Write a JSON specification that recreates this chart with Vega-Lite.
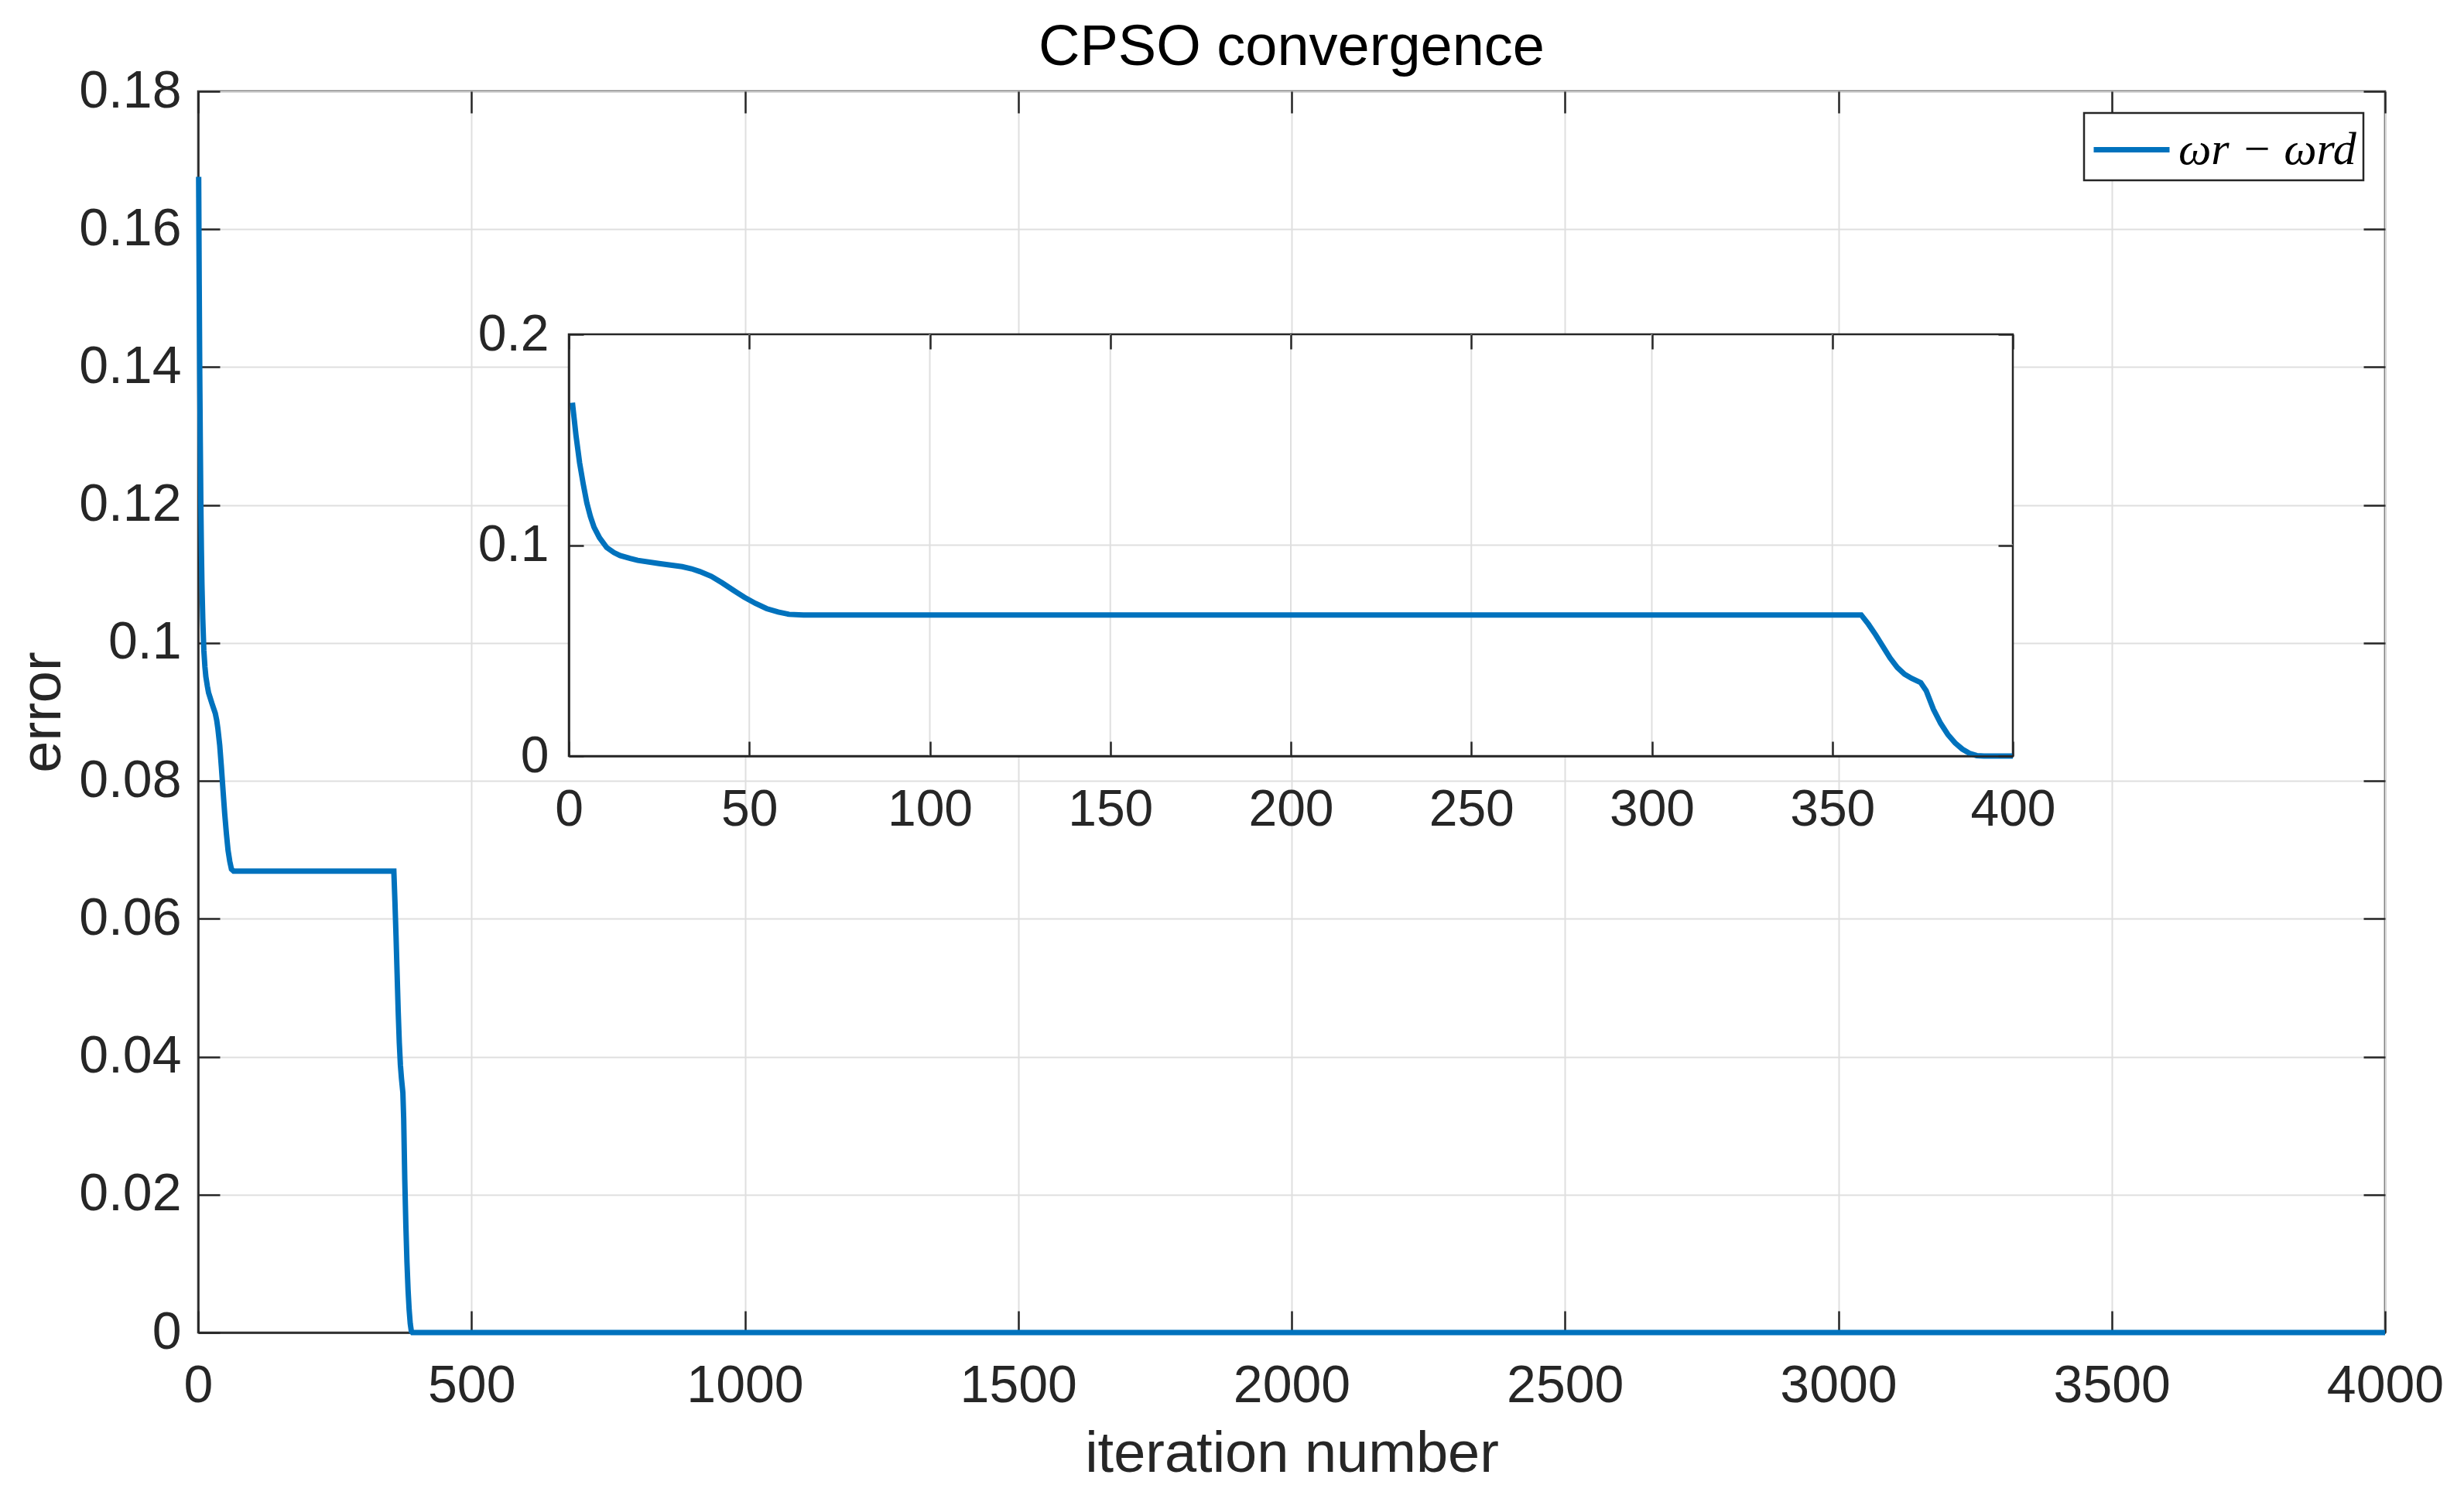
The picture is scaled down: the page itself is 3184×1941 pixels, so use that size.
{
  "$schema": "https://vega.github.io/schema/vega-lite/v6.json",
  "width": 2826,
  "height": 1604,
  "autosize": {"type": "none"},
  "padding": {"left": 256, "top": 118, "right": 102, "bottom": 219},
  "background": "white",
  "title": {"text": "CPSO convergence", "fontSize": 74, "font": "Liberation Sans", "fontWeight": "normal", "color": "#000000", "offset": -16, "anchor": "middle"},
  "datasets": {
    "curve": [
      {"x": 1, "y": 0.1676}, {"x": 2, "y": 0.152}, {"x": 3, "y": 0.139}, {"x": 4, "y": 0.129},
      {"x": 5, "y": 0.12}, {"x": 6, "y": 0.1135}, {"x": 7, "y": 0.1085}, {"x": 8.5, "y": 0.1035},
      {"x": 10.5, "y": 0.0989}, {"x": 12.5, "y": 0.0965}, {"x": 14.2, "y": 0.0951}, {"x": 17, "y": 0.0937},
      {"x": 19.1, "y": 0.0928}, {"x": 25, "y": 0.0913}, {"x": 31.4, "y": 0.0898}, {"x": 34, "y": 0.0888},
      {"x": 36.3, "y": 0.0875}, {"x": 39.5, "y": 0.0852}, {"x": 42.5, "y": 0.0821}, {"x": 45.5, "y": 0.0787},
      {"x": 48.6, "y": 0.0753}, {"x": 51.7, "y": 0.0724}, {"x": 54.8, "y": 0.0699}, {"x": 58, "y": 0.0683},
      {"x": 61, "y": 0.0672}, {"x": 65, "y": 0.0669}, {"x": 358, "y": 0.0669}, {"x": 360, "y": 0.0625},
      {"x": 362, "y": 0.0575}, {"x": 364, "y": 0.052}, {"x": 366, "y": 0.0465}, {"x": 368, "y": 0.042},
      {"x": 370, "y": 0.0388}, {"x": 372, "y": 0.0368}, {"x": 374.5, "y": 0.0348}, {"x": 376, "y": 0.031},
      {"x": 378, "y": 0.0222}, {"x": 380, "y": 0.0155}, {"x": 382, "y": 0.0102}, {"x": 384, "y": 0.0062},
      {"x": 386, "y": 0.0033}, {"x": 388, "y": 0.0013}, {"x": 390, "y": 0.0002}, {"x": 392, "y": 0},
      {"x": 400, "y": 0}, {"x": 4000, "y": 0}
    ],
    "box": [{"x0": 0, "x1": 400, "y0": 0, "y1": 0.2}],
    "gridX": [{"g": 50}, {"g": 100}, {"g": 150}, {"g": 200}, {"g": 250}, {"g": 300}, {"g": 350}],
    "gridY": [{"g": 0.1}]
  },
  "config": {
    "view": {"stroke": "#262626", "strokeWidth": 2.5},
    "font": "Liberation Sans",
    "axis": {
      "domainColor": "#262626", "domainWidth": 2.5,
      "tickColor": "#262626", "tickWidth": 2.5,
      "labelColor": "#262626", "labelFont": "Liberation Sans",
      "titleFont": "Liberation Sans", "titleColor": "#262626", "titleFontWeight": "normal",
      "gridColor": "#dfdfdf", "gridWidth": 2,
      "labelFlush": false, "labelOverlap": false
    }
  },
  "layer": [
    {
      "data": {"name": "curve"},
      "layer": [
        {
          "mark": {"type": "line", "strokeWidth": 7},
          "encoding": {
            "x": {"field": "x", "type": "quantitative",
              "scale": {"domain": [0, 4000], "nice": false, "zero": false},
              "axis": {"orient": "bottom", "values": [0, 500, 1000, 1500, 2000, 2500, 3000, 3500, 4000],
                "format": "d", "tickSize": -28, "labelPadding": 63, "labelFontSize": 68,
                "title": "iteration number", "titleFontSize": 74, "titlePadding": 18, "grid": true}},
            "y": {"field": "y", "type": "quantitative",
              "scale": {"domain": [0, 0.18], "nice": false},
              "axis": {"orient": "left", "values": [0, 0.02, 0.04, 0.06, 0.08, 0.1, 0.12, 0.14, 0.16, 0.18],
                "format": "~g", "tickSize": -28, "labelPadding": 50, "labelFontSize": 68,
                "title": "error", "titleFontSize": 74, "titlePadding": 8, "grid": true}},
            "color": {"datum": "ωr − ωrd", "type": "nominal",
              "scale": {"range": ["#0072BD"]},
              "legend": {"title": null, "orient": "top-right", "offset": 28, "padding": 9,
                "symbolType": "M-1.4,0H1.4", "symbolSize": 4900, "symbolStrokeWidth": 7, "symbolOffset": 14,
                "labelFont": "Liberation Serif", "labelFontStyle": "italic", "labelFontSize": 60,
                "labelColor": "#000000", "labelOffset": 22, "labelLimit": 2000,
                "strokeColor": "#262626", "fillColor": "white",
                "encode": {"legend": {"update": {"strokeWidth": {"value": 2.5}}}}}}
          }
        },
        {
          "mark": {"type": "line", "strokeOpacity": 0},
          "encoding": {
            "x": {"field": "x", "type": "quantitative",
              "axis": {"orient": "top", "values": [0, 500, 1000, 1500, 2000, 2500, 3000, 3500, 4000],
                "tickSize": -28, "labels": false, "domain": false, "grid": false, "title": null}},
            "y": {"field": "y", "type": "quantitative",
              "axis": {"orient": "right", "values": [0, 0.02, 0.04, 0.06, 0.08, 0.1, 0.12, 0.14, 0.16, 0.18],
                "tickSize": -28, "labels": false, "domain": false, "grid": false, "title": null}}
          }
        }
      ],
      "resolve": {"axis": {"x": "independent", "y": "independent"}}
    },
    {
      "layer": [
        {
          "data": {"name": "box"},
          "mark": {"type": "rect", "fill": "white", "stroke": "#262626", "strokeWidth": 2.5},
          "encoding": {
            "x": {"field": "x0", "type": "quantitative",
              "scale": {"domain": [0, 400], "range": [479, 2345], "nice": false, "zero": false},
              "axis": {"orient": "bottom", "offset": -745, "values": [0, 50, 100, 150, 200, 250, 300, 350, 400],
                "tickSize": -19, "labelPadding": 56, "labelFontSize": 66, "title": null, "grid": false, "zindex": 1}},
            "x2": {"field": "x1"},
            "y": {"field": "y0", "type": "quantitative",
              "scale": {"domain": [0, 0.2], "range": [859, 314], "nice": false},
              "axis": {"orient": "left", "offset": -479, "values": [0, 0.1, 0.2], "format": "~g",
                "tickSize": -19, "labelPadding": 45, "labelFontSize": 66, "title": null, "grid": false, "zindex": 1}},
            "y2": {"field": "y1"}
          }
        },
        {
          "data": {"name": "gridX"},
          "mark": {"type": "rule", "color": "#dfdfdf", "strokeWidth": 2},
          "encoding": {
            "x": {"field": "g", "type": "quantitative", "axis": null},
            "y": {"datum": 0, "type": "quantitative", "axis": null},
            "y2": {"datum": 0.2}
          }
        },
        {
          "data": {"name": "gridY"},
          "mark": {"type": "rule", "color": "#dfdfdf", "strokeWidth": 2},
          "encoding": {
            "y": {"field": "g", "type": "quantitative", "axis": null},
            "x": {"datum": 0, "type": "quantitative", "axis": null},
            "x2": {"datum": 400}
          }
        },
        {
          "data": {"name": "curve"},
          "transform": [{"filter": "datum.x <= 400"}],
          "mark": {"type": "line", "color": "#0072BD", "strokeWidth": 7},
          "encoding": {
            "x": {"field": "x", "type": "quantitative",
              "axis": {"orient": "top", "offset": -314, "values": [0, 50, 100, 150, 200, 250, 300, 350, 400],
                "tickSize": -19, "labels": false, "domain": false, "grid": false, "title": null, "zindex": 1}},
            "y": {"field": "y", "type": "quantitative",
              "axis": {"orient": "right", "offset": -481, "values": [0, 0.1, 0.2],
                "tickSize": -19, "labels": false, "domain": false, "grid": false, "title": null, "zindex": 1}}
          }
        }
      ],
      "resolve": {"axis": {"x": "independent", "y": "independent"}}
    }
  ],
  "resolve": {"scale": {"x": "independent", "y": "independent"}, "axis": {"x": "independent", "y": "independent"}}
}
